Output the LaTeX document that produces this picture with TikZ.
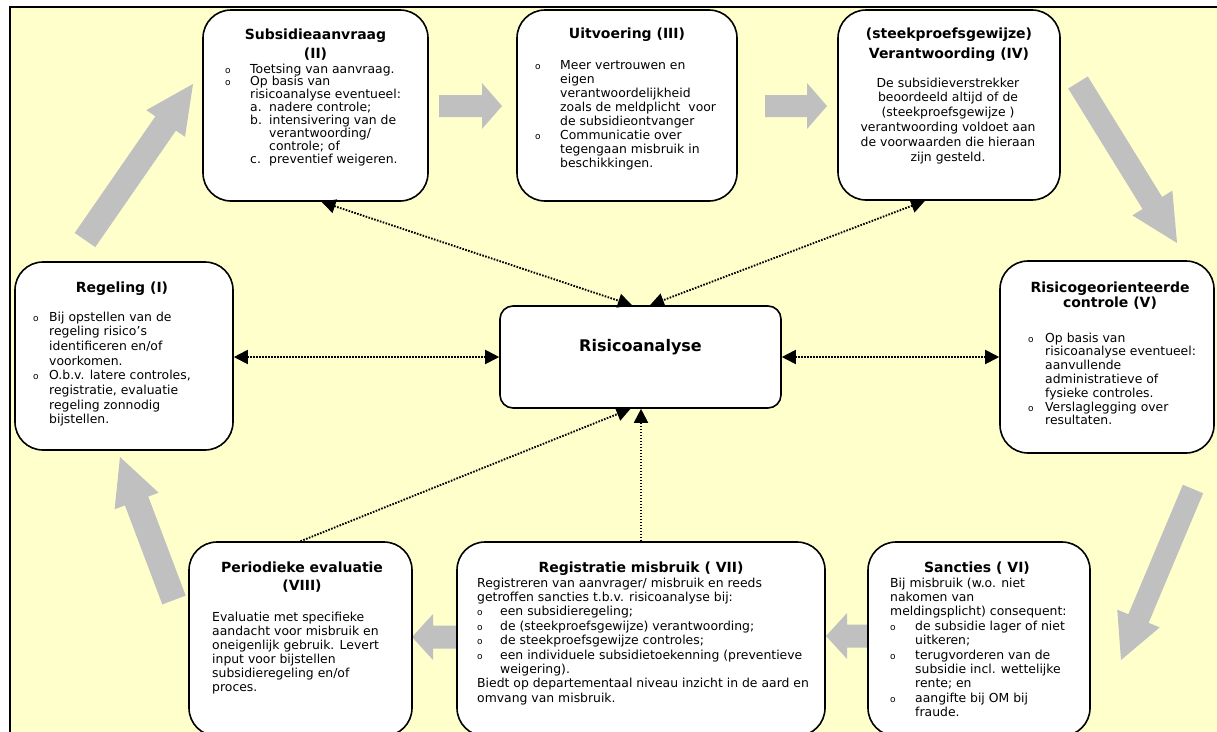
\documentclass[tikz,border=0pt]{standalone}
\usepackage{fontspec}
\setmainfont{DejaVu Sans}
\usetikzlibrary{arrows.meta,calc}
\definecolor{bgyellow}{HTML}{FFFFCC}
\definecolor{arrowgray}{HTML}{C0C0C0}
\newcommand\bul[1]{\makebox[#1][l]{\fontsize{9}{9}\selectfont o}}
\newcommand\ind[1]{\hspace*{#1}}
\newcommand\fatarrow[5]{%
  \coordinate (fa-b) at ($(#2)!#5!(#1)$);
  \fill[arrowgray] ($(#1)!#3!90:(#2)$) -- ($(fa-b)!#3!90:(#2)$) -- ($(fa-b)!#4!90:(#2)$) -- (#2)
    -- ($(fa-b)!#4!-90:(#2)$) -- ($(fa-b)!#3!-90:(#2)$) -- ($(#1)!#3!-90:(#2)$) -- cycle;}
\tikzset{
  stagebox/.style={draw=black, line width=1.6pt, fill=white, rounded corners=28pt, inner sep=0pt},
  centerbox/.style={draw=black, line width=1.6pt, fill=white, rounded corners=13pt, inner sep=0pt},
  boxtitle/.style={font=\fontsize{14}{#1}\selectfont\bfseries, align=center, inner sep=0pt, anchor=base},
  boxtitle/.default=19,
  boxbody/.style={font=\fontsize{12.4}{#1}\selectfont, align=left, inner sep=0pt, anchor=base west},
  boxbody/.default=14,
  boxbodyc/.style={font=\fontsize{12.4}{#1}\selectfont, align=center, inner sep=0pt, anchor=base},
  boxbodyc/.default=14,
  link/.style={line width=1.9pt, dash pattern=on 1.6pt off 1.4pt,
    {Triangle[length=14pt,width=14pt]}-{Triangle[length=14pt,width=14pt]}},
  uplink/.style={line width=1.9pt, dash pattern=on 1.6pt off 1.4pt,
    -{Triangle[length=14pt,width=14pt]}},
}
\begin{document}
\begin{tikzpicture}[x=1pt,y=-1pt]
\useasboundingbox (0,0) rectangle (1217,731);
\fill[white] (0,0) rectangle (1217,731);
\fill[bgyellow] (10,7) rectangle (1230,745);
\draw[line width=1.6pt] (10,745) -- (10,7) -- (1230,7);

% block arrows (cycle)
\fatarrow{85,240}{193,84}{12.5pt}{23.5pt}{48pt}
\fatarrow{439,106}{502,106}{11pt}{23pt}{20pt}
\fatarrow{765,106}{827,106}{11pt}{23pt}{20pt}
\fatarrow{1078,82.5}{1177,243}{11.5pt}{23.5pt}{47pt}
\fatarrow{1193,489}{1121,660}{11pt}{23pt}{45pt}
\fatarrow{870,636}{826,636}{11.5pt}{23pt}{21pt}
\fatarrow{460,637}{412,637}{11.5pt}{23pt}{21pt}
\fatarrow{174,600}{120,457}{12.5pt}{23.5pt}{47pt}

% boxes
\node[stagebox, minimum width=218pt, minimum height=188pt] (I) at (124,356) {};
\node[stagebox, minimum width=225pt, minimum height=191pt] (II) at (315.5,105.5) {};
\node[stagebox, minimum width=220pt, minimum height=191pt] (III) at (627,105.5) {};
\node[stagebox, minimum width=222pt, minimum height=190pt] (IV) at (949,105) {};
\node[stagebox, minimum width=214pt, minimum height=192pt] (V) at (1107,357) {};
\node[stagebox, minimum width=222pt, minimum height=194pt] (VI) at (979,639) {};
\node[stagebox, minimum width=368pt, minimum height=194pt] (VII) at (641,639) {};
\node[stagebox, minimum width=223pt, minimum height=194pt] (VIII) at (300.5,639) {};
\node[centerbox, minimum width=281pt, minimum height=102pt] (risk) at (640.5,357) {};

% dotted links
\draw[link] ([xshift=6pt]II.south) -- ([xshift=-8.5pt]risk.north);
\draw[link] ([xshift=-24pt]IV.south) -- ([xshift=9.5pt]risk.north);
\draw[link] (I.east |- risk.west) -- (risk.west);
\draw[link] (risk.east) -- (V.west |- risk.east);
\draw[uplink] (VIII.north) -- ([xshift=-10pt]risk.south);
\draw[uplink] (VII.north) -- (VII.north |- risk.south);

% texts (multi-line nodes are anchored at the baseline of their last line)
\node[font=\fontsize{16}{18}\selectfont\bfseries, inner sep=0pt, anchor=base] (risk-t) at (640.5,351) {Risicoanalyse};

\node[boxtitle] (I-t) at (122,292) {Regeling (I)};
\node[boxbody=14.7] (I-b) at (33,423.9) {\bul{16pt}Bij opstellen van de\\
\ind{16pt}regeling risico’s\\
\ind{16pt}identificeren en/of\\
\ind{16pt}voorkomen.\\
\bul{16pt}O.b.v. latere controles,\\
\ind{16pt}registratie, evaluatie\\
\ind{16pt}regeling zonnodig\\
\ind{16pt}bijstellen.};

\node[boxtitle=19] (II-t) at (315.5,58) {Subsidieaanvraag\\(II)};
\node[boxbody=12.9] (II-b) at (225,163.3) {\bul{25pt}Toetsing van aanvraag.\\
\bul{25pt}Op basis van\\
\ind{25pt}risicoanalyse eventueel:\\
\ind{25pt}\makebox[19pt][l]{a.}nadere controle;\\
\ind{25pt}\makebox[19pt][l]{b.}intensivering van de\\
\ind{44pt}verantwoording/\\
\ind{44pt}controle; of\\
\ind{25pt}\makebox[19pt][l]{c.}preventief weigeren.};

\node[boxtitle] (III-t) at (627,38) {Uitvoering (III)};
\node[boxbody=14] (III-b) at (535,167) {\bul{25pt}Meer vertrouwen en\\
\ind{25pt}eigen\\
\ind{25pt}verantwoordelijkheid\\
\ind{25pt}zoals de meldplicht\ \ voor\\
\ind{25pt}de subsidieontvanger\\
\bul{25pt}Communicatie over\\
\ind{25pt}tegengaan misbruik in\\
\ind{25pt}beschikkingen.};

\node[boxtitle=20] (IV-t) at (949,58) {(steekproefsgewijze)\\Verantwoording (IV)};
\node[boxbodyc=14.8] (IV-b) at (948,161) {De subsidieverstrekker\\
beoordeeld altijd of de\\
(steekproefsgewijze )\\
verantwoording voldoet aan\\
de voorwaarden die hieraan\\
zijn gesteld.};

\node[boxtitle=15] (V-t) at (1110,307) {Risicogeorienteerde\\controle (V)};
\node[boxbody=13.8] (V-b) at (1028,424.8) {\bul{17pt}Op basis van\\
\ind{17pt}risicoanalyse eventueel:\\
\ind{17pt}aanvullende\\
\ind{17pt}administratieve of\\
\ind{17pt}fysieke controles.\\
\bul{17pt}Verslaglegging over\\
\ind{17pt}resultaten.};

\node[boxtitle] (VI-t) at (977,572) {Sancties ( VI)};
\node[boxbody=14.4] (VI-b) at (890,716.6) {Bij misbruik (w.o. niet\\
nakomen van\\
meldingsplicht) consequent:\\
\bul{25pt}de subsidie lager of niet\\
\ind{25pt}uitkeren;\\
\bul{25pt}terugvorderen van de\\
\ind{25pt}subsidie incl. wettelijke\\
\ind{25pt}rente; en\\
\bul{25pt}aangifte bij OM bij\\
\ind{25pt}fraude.};

\node[boxtitle] (VII-t) at (641,572) {Registratie misbruik ( VII)};
\node[boxbody=14.4] (VII-b) at (477,702.2) {Registreren van aanvrager/ misbruik en reeds\\
getroffen sancties t.b.v. risicoanalyse bij:\\
\bul{23pt}een subsidieregeling;\\
\bul{23pt}de (steekproefsgewijze) verantwoording;\\
\bul{23pt}de steekproefsgewijze controles;\\
\bul{23pt}een individuele subsidietoekenning (preventieve\\
\ind{23pt}weigering).\\
Biedt op departementaal niveau inzicht in de aard en\\
omvang van misbruik.};

\node[boxtitle=18] (VIII-t) at (302,590) {Periodieke evaluatie\\(VIII)};
\node[boxbody=14] (VIII-b) at (212,691) {Evaluatie met specifieke\\
aandacht voor misbruik en\\
oneigenlijk gebruik. Levert\\
input voor bijstellen\\
subsidieregeling en/of\\
proces.};
\end{tikzpicture}
\end{document}
